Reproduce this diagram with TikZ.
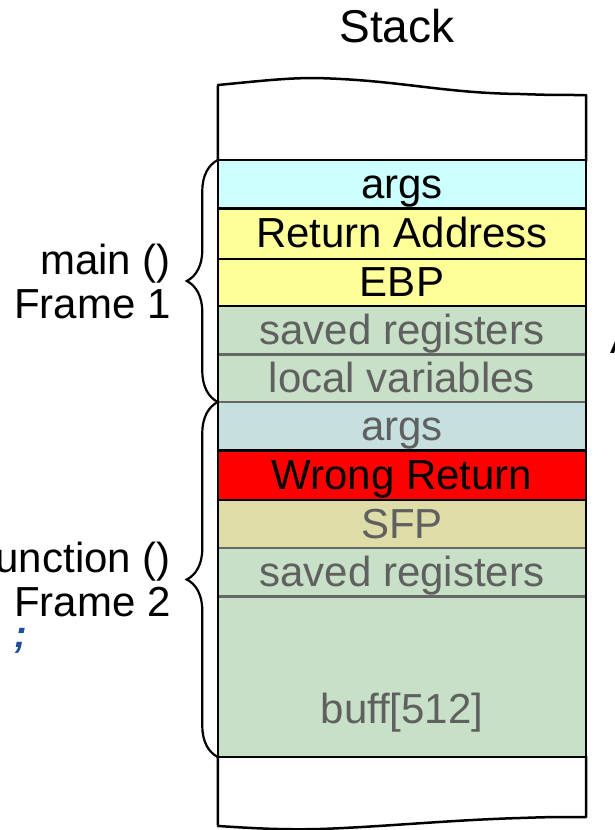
\documentclass[tikz,border=0pt]{standalone}
\usepackage{fontspec}
\setmainfont{Liberation Sans}
\setmonofont{Liberation Mono}
\usepackage{tikz}
\usetikzlibrary{positioning,decorations.pathreplacing}

\definecolor{argscyan}{HTML}{CCFFFF}
\definecolor{retyellow}{HTML}{FFFF99}
\definecolor{regsgreen}{HTML}{C7E0C7}
\definecolor{argsgrey}{HTML}{C6E0E0}
\definecolor{sfpkhaki}{HTML}{DEDDA8}
\definecolor{fadedtext}{HTML}{606060}
\definecolor{sepgrey}{HTML}{666666}
\definecolor{codeblue}{HTML}{1F4E9A}

\begin{document}
\begin{tikzpicture}[
  x=1pt, y=-1pt,
  cell/.style={minimum width=368pt, minimum height=48pt, inner sep=0pt,
    text height=31pt, text depth=3pt, font=\fontsize{42}{46}\selectfont},
  faded/.style={text=fadedtext},
  edge-black/.style={line width=2.5pt, line cap=rect},
  edge-grey/.style={line width=2.5pt, draw=sepgrey},
  frame-brace/.style={decorate, decoration={brace, amplitude=31pt}, line width=2.2pt},
  frame-label/.style={midway, left=46pt, align=right, inner sep=0pt, font=\fontsize{42}{44}\selectfont}
]
  \useasboundingbox (0,0) rectangle (615,830);

  \node (title) at (397,26) {\fontsize{46}{50}\selectfont Stack};

  % frame of main ()
  \node (args-main) [cell, fill=argscyan, anchor=north] at (402,160) {args};
  \node (ret-main) [cell, fill=retyellow, below=0pt of args-main, minimum height=50pt] {Return Address};
  \node (ebp-main) [cell, fill=retyellow, below=0pt of ret-main, minimum height=47pt] {EBP};
  \node (regs-main) [cell, fill=regsgreen, faded, below=0pt of ebp-main] {saved registers};
  \node (locals-main) [cell, fill=regsgreen, faded, below=0pt of regs-main, minimum height=47pt] {local variables};

  % frame of function ()
  \node (args-func) [cell, fill=argsgrey, faded, below=0pt of locals-main] {args};
  \node (ret-func) [cell, fill=red, below=0pt of args-func, minimum height=49pt] {Wrong Return};
  \node (sfp-func) [cell, fill=sfpkhaki, faded, below=0pt of ret-func] {SFP};
  \node (regs-func) [cell, fill=regsgreen, faded, below=0pt of sfp-func] {saved registers};
  \node (buff-func) [cell, fill=regsgreen, faded, below=0pt of regs-func, minimum height=160pt, text height=96pt] {buff[512]};

  % separators
  \foreach \cell in {args-main,ret-main,ebp-main,args-func,ret-func,buff-func}
    \draw[edge-black] (\cell.south west) -- (\cell.south east);
  \foreach \cell in {regs-main,locals-main,sfp-func,regs-func}
    \draw[edge-grey] (\cell.south west) -- (\cell.south east);
  \draw[edge-black] (args-main.north west) -- (args-main.north east);
  \draw[edge-black] (args-main.north west) -- (buff-func.south west);
  \draw[edge-black] (args-main.north east) -- (buff-func.south east);

  % torn ends of the stack
  \draw[edge-black, line join=round] (args-main.north west) -- (218,85)
    .. controls (260,81) and (285,78) .. (315,78)
    .. controls (400,80) and (440,93) .. (520,94)
    .. controls (550,95) .. (args-main.north east |- 0,95) -- (args-main.north east);
  \draw[edge-black, line join=round] (buff-func.south west) -- (218,826)
    .. controls (250,828) and (280,830) .. (320,829)
    .. controls (380,827) and (450,820) .. (520,818)
    .. controls (550,817) .. (buff-func.south east |- 0,817) -- (buff-func.south east);

  % braces
  \draw[frame-brace] (args-func.north west) -- node[frame-label] (main-label) {main ()\\Frame 1} (args-main.north west);
  \draw[frame-brace] (buff-func.south west) -- node[frame-label] (func-label) {Function ()\\Frame 2} (args-func.north west);

  \node (semicolon) [anchor=base west, inner sep=0pt, text=codeblue, font=\fontsize{38}{40}\selectfont\bfseries\itshape] at (14,647) {;};
  \node (cut-a) [anchor=base west, inner sep=0pt, font=\fontsize{40}{44}\selectfont] at (610,353) {A};
\end{tikzpicture}
\end{document}
